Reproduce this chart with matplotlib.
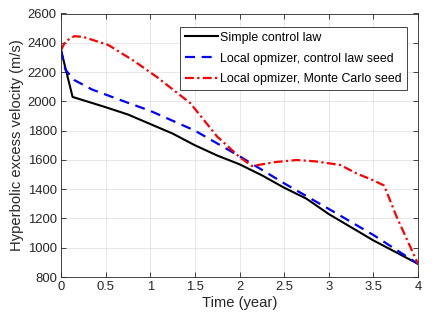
import numpy as np
import matplotlib
matplotlib.use("Agg")
import matplotlib.pyplot as plt

plt.rcParams['font.family'] = ['Liberation Sans', 'DejaVu Sans']

# Simple control law
t_simple = [0, 0.13, 0.5, 0.75, 1.0, 1.25, 1.5, 1.75, 2.0, 2.25, 2.5, 2.75, 3.0, 3.25, 3.5, 3.75, 4.0]
v_simple = [2350, 2030, 1960, 1910, 1845, 1780, 1700, 1630, 1570, 1495, 1410, 1335, 1230, 1140, 1050, 970, 890]

# Local optimizer, control law seed
t_cl = [0, 0.05, 0.15, 0.35, 0.75, 1.0, 1.5, 2.0, 2.5, 3.0, 3.5, 4.0]
v_cl = [2350, 2215, 2145, 2080, 1990, 1935, 1800, 1625, 1440, 1265, 1087, 890]

# Local optimizer, Monte Carlo seed
t_mc = [0, 0.05, 0.15, 0.25, 0.53, 0.82, 1.07, 1.45, 1.75, 2.0, 2.14, 2.4, 2.64, 2.85, 3.13, 3.31, 3.5, 3.62, 3.76, 4.0]
v_mc = [2350, 2410, 2445, 2440, 2385, 2275, 2168, 1987, 1759, 1620, 1558, 1585, 1599, 1590, 1565, 1508, 1460, 1425, 1212, 890]

xticks = [0, 0.5, 1, 1.5, 2, 2.5, 3, 3.5, 4]
xticklabels = ['0', '0.5', '1', '1.5', '2', '2.5', '3', '3.5', '4']
yticks = [800, 1000, 1200, 1400, 1600, 1800, 2000, 2200, 2400, 2600]

fig = plt.figure(figsize=(4.36, 3.27), dpi=100)
ax = fig.add_axes([61 / 436, 50 / 327, 357 / 436, 263.5 / 327])

ax.plot(t_simple, v_simple, color='k', lw=1.5, label='Simple control law')
ax.plot(t_cl, v_cl, color=(0, 0, 1), lw=1.6, ls=(0, (4.5, 3)), label='Local opmizer, control law seed')
ax.plot(t_mc, v_mc, color=(1, 0, 0), lw=1.6, ls=(0, (4, 1.5, 1, 1.5)), label='Local opmizer, Monte Carlo seed')

ax.set_xlim(0, 4)
ax.set_ylim(800, 2600)
ax.set_xticks(xticks)
ax.set_xticklabels(xticklabels)
ax.set_yticks(yticks)
ax.grid(True, color=(0.15, 0.15, 0.15), alpha=0.12, lw=0.6)
ax.set_axisbelow(True)
ax.tick_params(direction='in', top=True, right=True, length=3.5, width=0.6,
               colors=(0.15, 0.15, 0.15), labelsize=9.4, pad=3)
for s in ax.spines.values():
    s.set_color((0.15, 0.15, 0.15))
    s.set_linewidth(0.6)

ax.set_xlabel('Time (year)', fontsize=10.6, color=(0.15, 0.15, 0.15), labelpad=2)
ax.set_ylabel('Hyperbolic excess velocity (m/s)', fontsize=10.6, color=(0.15, 0.15, 0.15), labelpad=3)

leg = ax.legend(loc='upper right', bbox_to_anchor=(0.969, 0.95), fontsize=8.9, frameon=True,
                fancybox=False, edgecolor=(0.15, 0.15, 0.15), framealpha=1,
                handlelength=2.7, handletextpad=0.2, borderpad=0.4, labelspacing=0.72,
                borderaxespad=0)
leg.get_frame().set_linewidth(0.6)

fig.savefig('out.png', dpi=100)
